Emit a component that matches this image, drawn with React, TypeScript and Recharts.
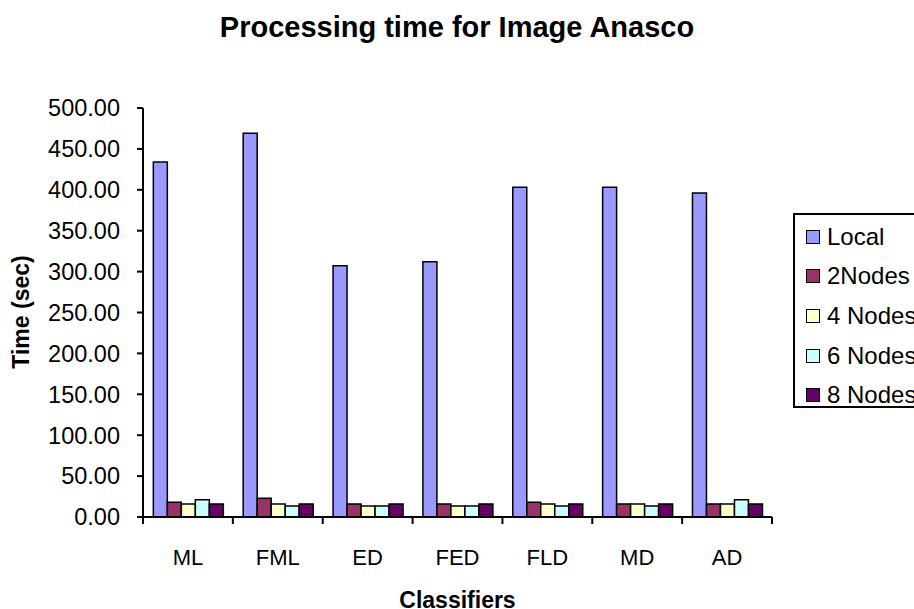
import React from 'react';
import { BarChart, Bar, XAxis, YAxis, Label } from 'recharts';

const CATEGORIES = ['ML', 'FML', 'ED', 'FED', 'FLD', 'MD', 'AD'];
const LOCAL = [434, 469, 307, 312, 403, 403, 396];
const NODES_2 = [18, 23, 16, 16, 18, 16, 16];
const NODES_4 = [16, 16, 13.5, 13.5, 16, 16, 16];
const NODES_6 = [21, 13.5, 13.5, 13.5, 13.5, 13.5, 21];
const NODES_8 = [16, 16, 16, 16, 16, 16, 16];
const Y_TICKS = [0, 50, 100, 150, 200, 250, 300, 350, 400, 450, 500];

const SERIES = [
    { key: 'local', name: 'Local', values: LOCAL, color: '#9999FF' },
    { key: 'n2', name: '2Nodes', values: NODES_2, color: '#993366' },
    { key: 'n4', name: '4 Nodes', values: NODES_4, color: '#FFFFCC' },
    { key: 'n6', name: '6 Nodes', values: NODES_6, color: '#CCFFFF' },
    { key: 'n8', name: '8 Nodes', values: NODES_8, color: '#660066' },
];

const data = CATEGORIES.map((name, i) => {
    const row: Record<string, string | number> = { name };
    SERIES.forEach((s) => {
        row[s.key] = s.values[i];
    });
    return row;
});

const FONT = '"Liberation Sans", Arial, sans-serif';

// category label in the middle, tick marks on the band edges
const CategoryTick = (props: any) => {
    const { x, y, payload, index, visibleTicksCount } = props;
    const half = payload && payload.offset ? payload.offset : 44.9;
    return (
        <g>
            <line x1={x - half} x2={x - half} y1={y - 7} y2={y} stroke="#000" strokeWidth={2} />
            {index === visibleTicksCount - 1 && (
                <line x1={x + half} x2={x + half} y1={y - 7} y2={y} stroke="#000" strokeWidth={2} />
            )}
            <text x={x} y={y + 41} textAnchor="middle" fontSize={22} fontFamily={FONT} fill="#000">
                {payload.value}
            </text>
        </g>
    );
};

const YAxisTitle = () => (
    <text
        x={29}
        y={312}
        transform="rotate(-90 29 312)"
        textAnchor="middle"
        fontSize={23}
        fontWeight="bold"
        fontFamily={FONT}
        fill="#000"
    >
        Time (sec)
    </text>
);

const App = () => {
    return (
        <div style={{ position: 'relative', width: 914, height: 609, overflow: 'hidden', background: '#fff' }}>
            <style>{'body{margin:0}'}</style>
            <div
                style={{
                    position: 'absolute',
                    top: 10,
                    left: 0,
                    width: 914,
                    textAlign: 'center',
                    fontFamily: FONT,
                    fontWeight: 'bold',
                    fontSize: 29,
                    lineHeight: '35px',
                }}
            >
                Processing time for Image Anasco
            </div>
            <BarChart
                width={914}
                height={609}
                data={data}
                margin={{ top: 108, right: 142, bottom: 0, left: 0 }}
                barCategoryGap="11.5%"
                barGap={0}
            >
                <XAxis
                    dataKey="name"
                    height={92}
                    axisLine={{ stroke: '#000', strokeWidth: 2 }}
                    tickLine={false}
                    tickSize={7}
                    tickMargin={0}
                    tick={<CategoryTick />}
                    interval={0}
                >
                    <Label
                        value="Classifiers"
                        position="insideBottom"
                        offset={1}
                        style={{ fontSize: 23, fontWeight: 'bold', fontFamily: FONT, fill: '#000' }}
                    />
                </XAxis>
                <YAxis
                    width={143}
                    domain={[0, 500]}
                    ticks={Y_TICKS}
                    interval={0}
                    tickFormatter={(v: number) => v.toFixed(2)}
                    axisLine={{ stroke: '#000', strokeWidth: 2 }}
                    tickLine={{ stroke: '#000', strokeWidth: 2 }}
                    tickSize={6}
                    tickMargin={17}
                    tick={{ fontSize: 23.5, fontFamily: FONT, fill: '#000' }}
                >
                    <Label content={<YAxisTitle />} />
                </YAxis>
                {SERIES.map((s) => (
                    <Bar
                        key={s.key}
                        dataKey={s.key}
                        name={s.name}
                        fill={s.color}
                        stroke="#000"
                        strokeWidth={1.5}
                        isAnimationActive={false}
                    />
                ))}
            </BarChart>
            <div
                style={{
                    position: 'absolute',
                    left: 793,
                    top: 213,
                    width: 160,
                    height: 195,
                    border: '2px solid #000',
                    boxSizing: 'border-box',
                    fontFamily: FONT,
                    fontSize: 24,
                    paddingTop: 2,
                }}
            >
                {SERIES.map((s) => (
                    <div key={s.key} style={{ display: 'flex', alignItems: 'center', height: 39.6 }}>
                        <span
                            style={{
                                display: 'inline-block',
                                width: 14,
                                height: 14,
                                marginLeft: 11,
                                marginRight: 7,
                                background: s.color,
                                border: '1.5px solid #000',
                                boxSizing: 'border-box',
                            }}
                        />
                        <span>{s.name}</span>
                    </div>
                ))}
            </div>
        </div>
    );
};

export default App;
